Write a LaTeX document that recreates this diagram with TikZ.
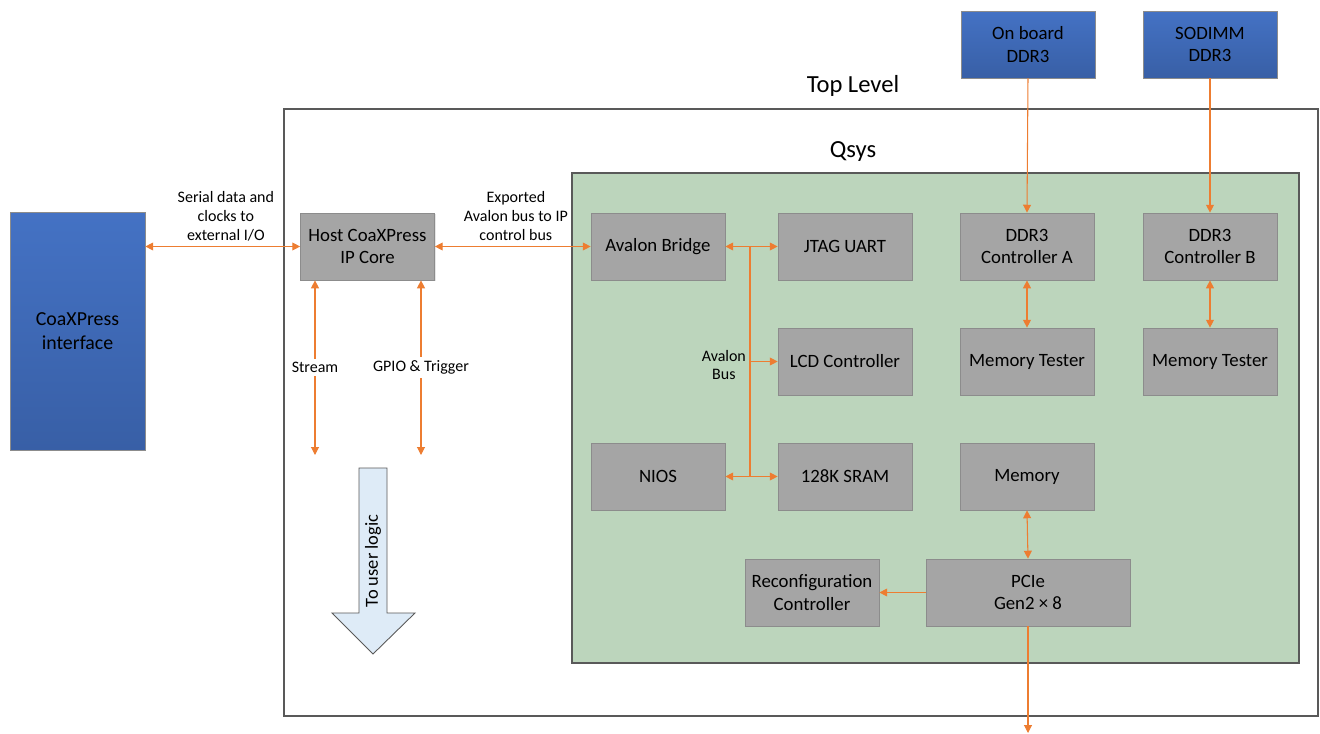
\documentclass[tikz,border=0pt]{standalone}
\usepackage{fontspec}
\setmainfont{Carlito}
\usetikzlibrary{arrows.meta,shadows}
\definecolor{boxgray}{HTML}{A5A5A5}
\definecolor{boxline}{HTML}{8C8C8C}
\definecolor{qsysgreen}{HTML}{BCD5BC}
\definecolor{frameline}{HTML}{595959}
\definecolor{wire}{HTML}{ED7D31}
\definecolor{blueTop}{HTML}{4472C4}
\definecolor{blueBot}{HTML}{385FA6}
\definecolor{arrowfill}{HTML}{DEEBF7}

\begin{document}
\begin{tikzpicture}[x=0.02cm,y=-0.02cm,>={Triangle[length=4.5pt,width=4.5pt]}]
    \tikzstyle{block}=[draw=boxline,fill=boxgray,minimum width=2.68cm,minimum height=1.34cm,inner sep=2pt,align=center,font=\fontsize{10.7}{13}\selectfont,drop shadow={opacity=0.2,shadow xshift=0.6pt,shadow yshift=-0.6pt}]
    \tikzstyle{ext}=[block,fill=none,top color=blueTop,bottom color=blueBot]
    \tikzstyle{lbl}=[align=center,inner sep=1pt,font=\fontsize{9.1}{10.8}\selectfont]
    \tikzstyle{title}=[font=\fontsize{14}{16}\selectfont]
    \tikzstyle{wire}=[draw=wire,line width=0.6pt]

    \useasboundingbox (0,0) rectangle (1320,734);

    % frames
    \draw[frameline,line width=1.1pt] (284,109) rectangle (1318,716);
    \node[title] (T-title) at (853,86) {Top Level};
    \draw[frameline,line width=1.1pt,fill=qsysgreen] (572,173) rectangle (1299,663);
    \node[title] (Q-title) at (853,151) {Qsys};

    % outside the top level
    \node[ext,minimum width=2.7cm,minimum height=4.76cm,font=\fontsize{11.3}{14}\selectfont] (X-cxp) at (77.5,331) {CoaXPress\\interface};
    \node[ext] (X-onboard) at (1028,44.5) {On board\\DDR3};
    \node[ext] (X-sodimm) at (1210,44.5) {SODIMM\\DDR3};

    % top level
    \node[block] (T-host) at (367.5,246.5) {Host CoaXPress\\IP Core};

    % qsys system
    \node[block] (Q-bridge) at (658,246.5) {Avalon Bridge};
    \node[block] (Q-jtag) at (845,246.5) {JTAG UART};
    \node[block] (Q-lcd) at (845,361.5) {LCD Controller};
    \node[block] (Q-nios) at (658,476.5) {NIOS};
    \node[block] (Q-sram) at (845,476.5) {128K SRAM};
    \node[block] (Q-ctrlA) at (1027,246.5) {DDR3\\Controller A};
    \node[block] (Q-ctrlB) at (1210,246.5) {DDR3\\Controller B};
    \node[block] (Q-testA) at (1027,361.5) {Memory Tester};
    \node[block] (Q-testB) at (1210,361.5) {Memory Tester};
    \node[block] (Q-mem) at (1027,476.5) {Memory};
    \node[block] (Q-reconf) at (812,592.5) {Reconfiguration\\Controller};
    \node[block,minimum width=4.08cm] (Q-pcie) at (1028,592.5) {PCIe\\Gen2 × 8};

    % big arrow out to the user logic
    \draw[draw=frameline,line width=0.5pt,fill=arrowfill] (359,468) -- (387,468) -- (387,613) -- (415,613) -- (373,654) -- (332,613) -- (359,613) -- cycle;
    \node[rotate=90,font=\fontsize{10.5}{12}\selectfont] (T-user) at (373,561) {To user logic};

    \coordinate (T-stream) at (315,455);
    \coordinate (T-gpio) at (421,455);
    \coordinate (B-top) at (750,246.5);
    \coordinate (B-bot) at (750,476.5);
    \coordinate (T-pcieout) at (1028,733);

    % connections
    \draw[wire,<->] (X-cxp.east |- T-host.west) -- node[lbl,above=2pt,pos=0.52] {Serial data and\\clocks to\\external I/O} (T-host.west);
    \draw[wire,<->] (T-host.east) -- node[lbl,above=2pt,pos=0.52] {Exported\\Avalon bus to IP\\control bus} (Q-bridge.west);
    \draw[wire,<->] (T-host.south -| T-stream) -- node[lbl,fill=white,inner sep=2pt] {Stream} (T-stream);
    \draw[wire,<->] (T-host.south -| T-gpio) -- node[lbl,fill=white,inner sep=2pt] {GPIO \& Trigger} (T-gpio);

    % avalon bus
    \draw[wire] (B-top) -- (B-bot);
    \node[lbl,anchor=east] (B-label) at (748,365) {Avalon\\Bus};
    \draw[wire,->] (B-top) -- (Q-bridge.east);
    \draw[wire,->] (B-top) -- (Q-jtag.west);
    \draw[wire,->] (B-top |- Q-lcd.west) -- (Q-lcd.west);
    \draw[wire,->] (B-bot) -- (Q-nios.east);
    \draw[wire,->] (B-bot) -- (Q-sram.west);

    \foreach \from/\to in {X-onboard/Q-ctrlA, X-sodimm/Q-ctrlB}
        \draw[wire,->] (\from.south) -- (\to.north);
    \foreach \from/\to in {Q-ctrlA/Q-testA, Q-ctrlB/Q-testB, Q-mem/Q-pcie}
        \draw[wire,<->] (\from.south) -- (\to.north);
    \draw[wire,->] (Q-pcie.west) -- (Q-reconf.east);
    \draw[wire,->] (Q-pcie.south) -- (T-pcieout);
\end{tikzpicture}
\end{document}
